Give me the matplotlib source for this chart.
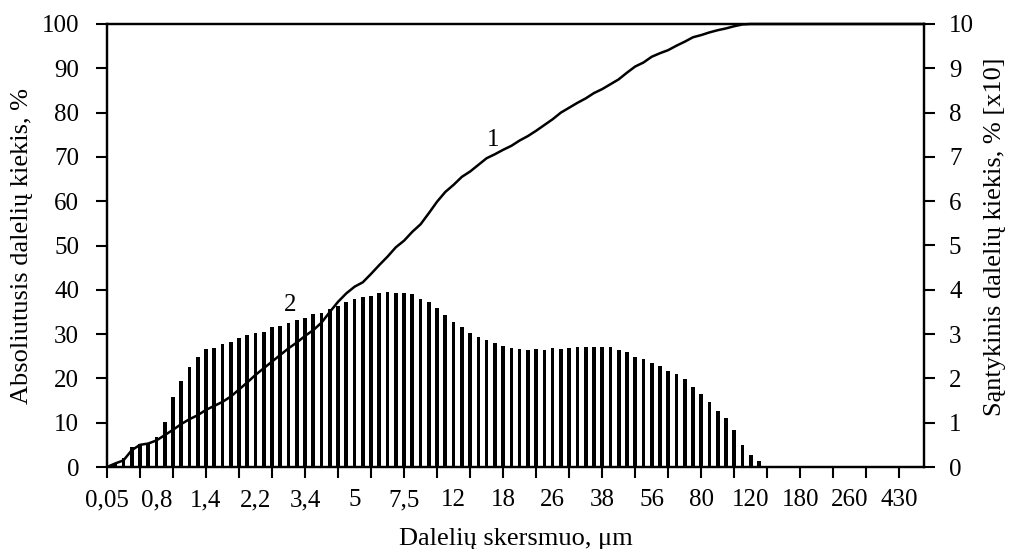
import matplotlib
matplotlib.use("Agg")
import matplotlib.pyplot as plt
import numpy as np

plt.rcParams['font.family'] = ['Liberation Serif', 'DejaVu Serif']

size_labels = ['0,05', '0,8', '1,4', '2,2', '3,4', '5', '7,5', '12', '18', '26',
               '38', '56', '80', '120', '180', '260', '430']

# relative amount (right axis, % [x10]) for each of the 100 size classes
relative = [0, 0.1, 0.2, 0.46, 0.53, 0.52, 0.67, 1.01, 1.57, 1.94,
            2.26, 2.49, 2.66, 2.69, 2.78, 2.83, 2.92, 2.98, 3.03, 3.05,
            3.15, 3.18, 3.24, 3.32, 3.36, 3.45, 3.47, 3.56, 3.63, 3.73,
            3.79, 3.84, 3.87, 3.93, 3.96, 3.93, 3.93, 3.91, 3.79, 3.73,
            3.58, 3.42, 3.27, 3.15, 3.03, 2.94, 2.87, 2.81, 2.74, 2.69,
            2.66, 2.64, 2.66, 2.63, 2.69, 2.66, 2.69, 2.72, 2.72, 2.72,
            2.72, 2.72, 2.63, 2.60, 2.49, 2.43, 2.34, 2.28, 2.17, 2.11,
            1.98, 1.81, 1.65, 1.47, 1.27, 1.10, 0.84, 0.49, 0.26, 0.14,
            0, 0, 0, 0, 0, 0, 0, 0, 0, 0,
            0, 0, 0, 0, 0, 0, 0, 0, 0, 0]

# cumulative (absolute) amount, left axis, %
cumulative = [0, 0.8, 1.5, 3.8, 5.0, 5.3, 6.0, 7.2, 8.4, 9.7,
              10.8, 11.7, 12.9, 13.8, 14.7, 15.9, 17.5, 19.1, 20.8, 22.3,
              23.8, 25.3, 26.8, 28.1, 29.6, 30.9, 32.6, 35.0, 37.3, 39.2,
              40.7, 41.7, 43.6, 45.6, 47.5, 49.6, 51.1, 53.1, 54.8, 57.3,
              59.9, 62.1, 63.7, 65.5, 66.7, 68.2, 69.7, 70.6, 71.6, 72.5,
              73.7, 74.7, 75.9, 77.2, 78.5, 80.0, 81.1, 82.2, 83.2, 84.4,
              85.3, 86.4, 87.5, 89.0, 90.4, 91.3, 92.6, 93.4, 94.1, 95.1,
              96.0, 97.0, 97.5, 98.1, 98.6, 99.0, 99.5, 99.9, 100, 100,
              100, 100, 100, 100, 100, 100, 100, 100, 100, 100,
              100, 100, 100, 100, 100, 100, 100, 100, 100, 100]

n = len(cumulative)
x = np.arange(n)

fig = plt.figure(figsize=(10.11, 5.49), dpi=100)
ax = fig.add_axes([107/1011, 1 - 467/549, (924 - 107)/1011, (467 - 24)/549])
ax2 = ax.twinx()

FS = 18
FL = 19
ax.plot(x, cumulative, color='black', lw=1.8, zorder=3, clip_on=False)
ax2.bar(x, relative, width=0.45, color='black', zorder=2)

ax.set_xlim(0, n - 1)
ax.set_ylim(0, 100)
ax2.set_ylim(0, 10)
ax.set_yticks(np.arange(0, 101, 10))
ax2.set_yticks(np.arange(0, 11, 1))

ax.xaxis.remove_overlapping_locs = False
ax.set_xticks(np.arange(0, len(size_labels) * 6, 6), size_labels)
ax.set_xticks(np.arange(0, n - 1, 4), minor=True)
ax.tick_params(axis='x', which='minor', direction='out', length=8, width=1.5)
ax.tick_params(axis='x', which='major', length=0, pad=16, labelsize=FS)
ax.tick_params(axis='y', direction='out', length=8, width=1.5, pad=12, labelsize=FS)
ax2.tick_params(axis='y', direction='out', length=8, width=1.5, pad=10, labelsize=FS)

for a in (ax, ax2):
    for s in a.spines.values():
        s.set_linewidth(1.6)
        s.set_color('black')

ax.set_xlabel('Dalelių skersmuo, μm', fontsize=FL, labelpad=12)
ax.set_ylabel('Absoliutusis dalelių kiekis, %', fontsize=FL, labelpad=6)
ax2.set_ylabel('Sąntykinis dalelių kiekis, % [x10]', fontsize=FL)
ax2.yaxis.set_label_coords(1.0735, 0.519)

ax.text(46.8, 73.8, '1', fontsize=FS, ha='center', va='center')
ax2.text(22.2, 3.66, '2', fontsize=FS, ha='center', va='center')

ax2.set_zorder(1)
ax.set_zorder(2)
ax.patch.set_visible(False)

fig.savefig('out.png', dpi=100)
